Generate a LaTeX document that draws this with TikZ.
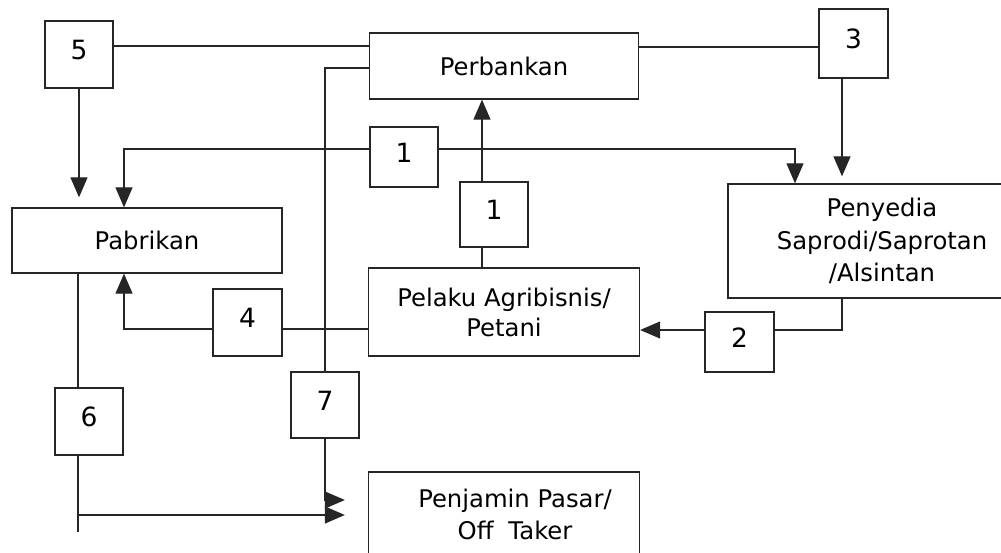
\documentclass[tikz,border=0pt]{standalone}
\usepackage{fontspec}
\setmainfont{DejaVu Sans}
\usetikzlibrary{arrows.meta}
\begin{document}
\begin{tikzpicture}[x=1pt,y=-1pt,
  box/.style={draw=black!85, fill=white, line width=1.3pt, inner sep=0pt, align=center,
    font=\fontsize{24.3}{31}\selectfont},
  num/.style={box, font=\fontsize{26.5}{30}\selectfont, text height=19.5pt, text depth=9pt},
  link/.style={draw=black!85, line width=1.2pt},
  arr/.style={link, -{Triangle[length=20pt,width=17pt]}},
]
\useasboundingbox (0,0) rectangle (1001,553);
\clip (0,0) rectangle (1001,553);
% boxes
\node[num, minimum width=68pt, minimum height=67pt] (n5) at (79,54.5) {5};
\node[box, minimum width=269pt, minimum height=66pt] (bank) at (504,66) {Perbankan};
\node[num, minimum width=69pt, minimum height=69pt] (n3) at (853.5,43.5) {3};
\node[num, minimum width=68pt, minimum height=60pt] (n1a) at (404,157) {1};
\node[num, minimum width=68pt, minimum height=65pt] (n1b) at (494,214.5) {1};
\node[box, minimum width=270pt, minimum height=65pt] (pab) at (147,240.5) {Pabrikan};
\node[box, minimum width=308pt, minimum height=114pt, font=\fontsize{24.3}{32.5}\selectfont] (pen) at (882,241) {Penyedia\\Saprodi/Saprotan\\/Alsintan};
\node[box, minimum width=271pt, minimum height=88pt, font=\fontsize{24.3}{30}\selectfont] (pel) at (504,312) {Pelaku Agribisnis/\\Petani};
\node[num, minimum width=69pt, minimum height=67pt] (n4) at (247.5,322.5) {4};
\node[num, minimum width=69pt, minimum height=60pt] (n2) at (739.5,342) {2};
\node[num, minimum width=68pt, minimum height=66pt] (n7) at (325,405) {7};
\node[num, minimum width=68pt, minimum height=67pt] (n6) at (89,421.5) {6};
\node[box, minimum width=271pt, minimum height=136pt] (penj) at (504,540) {};
\node[font=\fontsize{24.3}{32}\selectfont, align=center, inner sep=0pt] (penjt) at (515,514) {Penjamin Pasar/\\Off\hspace{0.3em} Taker};
% free ends
\coordinate (e6) at (78,532);
\coordinate (j6) at (78,515);
% connectors
\draw[link] ([yshift=8.5pt]n5.east) -- ([yshift=20pt]bank.west);
\draw[link] ([yshift=19pt]bank.east) -- ([yshift=-3.5pt]n3.west);
\draw[arr, shorten >=7pt] ([xshift=-11.5pt]n3.south) -- ([xshift=-40pt]pen.north);
\draw[arr, shorten >=10pt] (n5.south) -- ([xshift=-68pt]pab.north);
\draw[arr] ([yshift=8pt]n1a.west) -| ([xshift=-23pt]pab.north);
\draw[arr] ([yshift=8pt]n1a.east) -| ([xshift=-87pt]pen.north);
\draw[link] ([xshift=-22pt]pel.north) -- ([xshift=-12pt]n1b.south);
\draw[arr] ([xshift=-12pt]n1b.north) -- ([xshift=-22pt]bank.south);
\draw[link] ([yshift=-17pt]pel.west) -- ([yshift=-6.5pt]n4.east);
\draw[arr] ([yshift=-6.5pt]n4.west) -| ([xshift=-23pt]pab.south);
\draw[link] ([xshift=-40pt]pen.south) |- ([yshift=12pt]n2.east);
\draw[arr] ([yshift=12pt]n2.west) -- ([yshift=-18pt]pel.east);
\draw[link] ([yshift=-2pt]bank.west) -| (n7.north);
\draw[arr, shorten >=23pt] (n7.south) |- ([yshift=40pt]penj.west);
\draw[link] ([xshift=-69pt]pab.south) -- ([xshift=-11pt]n6.north);
\draw[link] ([xshift=-11pt]n6.south) -- (e6);
\draw[arr, shorten >=23pt] (j6) -- ([yshift=25pt]penj.west);
\end{tikzpicture}
\end{document}
